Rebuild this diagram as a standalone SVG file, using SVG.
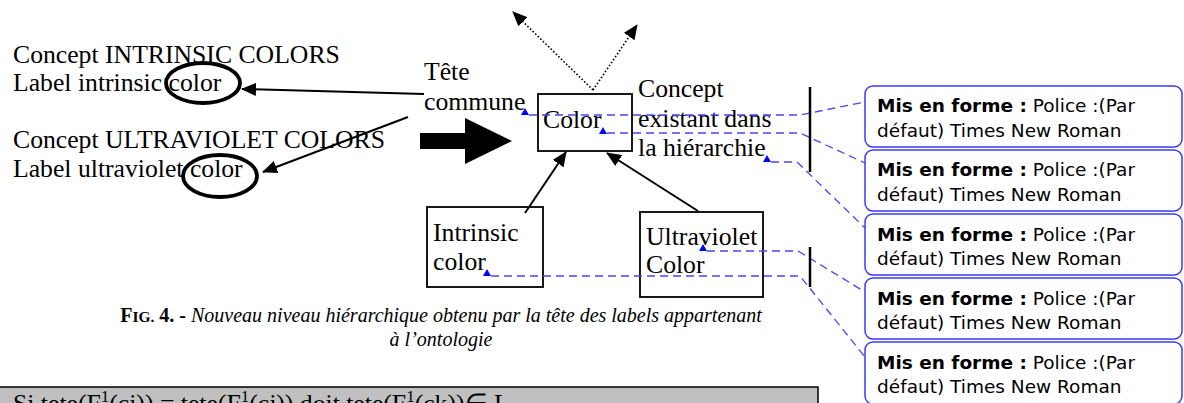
<svg xmlns="http://www.w3.org/2000/svg" width="1184" height="403" viewBox="0 0 1184 403">
<style>
.t{font-family:"Liberation Serif","Times New Roman",serif;font-size:25.7px;fill:#000}
.cap{font-family:"Liberation Serif","Times New Roman",serif;font-size:20px;fill:#000}
.bx{font-family:"DejaVu Sans",Verdana,sans-serif;font-size:18.5px;fill:#000}
.bb{font-weight:bold}
.box{fill:#fff;stroke:#000;stroke-width:1.8}
.call{fill:#fff;stroke:#3a3aff;stroke-width:1.5}
.dash{fill:none;stroke:#4646ff;stroke-width:1.3;stroke-dasharray:8 5}
.tri{fill:#0000ff}
.arr{fill:none;stroke:#000;stroke-width:2}
.dot{fill:none;stroke:#000;stroke-width:1.6;stroke-dasharray:1.6 2}
.ell{fill:none;stroke:#000;stroke-width:3.8}
.bar{stroke:#000;stroke-width:2.5}
</style>
<defs>
<marker id="ah" viewBox="0 0 15 13" refX="14" refY="6.5" markerWidth="15" markerHeight="13" markerUnits="userSpaceOnUse" orient="auto"><path d="M0,0 L15,6.5 L0,13 z" fill="#000"/></marker>
</defs>

<g id="left-labels">
<text class="t" x="13" y="63">Concept INTRINSIC COLORS</text>
<text class="t" x="13" y="91">Label intrinsic color</text>
<text class="t" x="13" y="148">Concept ULTRAVIOLET COLORS</text>
<text class="t" x="13" y="177">Label ultraviolet color</text>
<ellipse class="ell" cx="203" cy="83" rx="37" ry="20"/>
<ellipse class="ell" cx="220" cy="176" rx="37" ry="21"/>
</g>

<g id="tete-commune">
<text class="t" x="424" y="80">Tête</text>
<text class="t" x="424" y="110">commune</text>
</g>

<g id="color">
<rect class="box" x="538" y="94" width="94" height="57"/>
<text class="t" x="543" y="128">Color</text>
</g>

<g id="concept-existant">
<text class="t" x="638" y="97">Concept</text>
<text class="t" x="638" y="127">existant dans</text>
<text class="t" x="638" y="156">la hiérarchie</text>
</g>

<g id="intrinsic-color">
<rect class="box" x="427" y="207" width="116" height="80"/>
<text class="t" x="433" y="241">Intrinsic</text>
<text class="t" x="433" y="270">color</text>
</g>

<g id="ultraviolet-color">
<rect class="box" x="640" y="212" width="123" height="85"/>
<text class="t" x="646" y="245">Ultraviolet</text>
<text class="t" x="646" y="273">Color</text>
</g>

<g id="connectors">
<line class="arr" x1="424" y1="94" x2="242" y2="89" marker-end="url(#ah)"/>
<line class="arr" x1="408" y1="117" x2="263" y2="172" marker-end="url(#ah)"/>
<polygon points="420,133 465,133 465,118 512,141 465,164 465,149 420,149" fill="#000"/>
<line class="dot" x1="593" y1="90" x2="513" y2="12" marker-end="url(#ah)"/>
<line class="dot" x1="593" y1="90" x2="637" y2="25" marker-end="url(#ah)"/>
<line class="arr" x1="525" y1="213" x2="566" y2="152" marker-end="url(#ah)"/>
<line class="arr" x1="698" y1="211" x2="607" y2="153" marker-end="url(#ah)"/>
</g>

<g id="revision-marks">
<polyline class="dash" points="529,115 800,115 865,102"/>
<polyline class="dash" points="607,133 800,133 865,163"/>
<polyline class="dash" points="771,162 797,162 865,228"/>
<polyline class="dash" points="707,251 798,251 865,292"/>
<polyline class="dash" points="491,276 800,276 865,357"/>
<polygon class="tri" points="525,108 521,115 529,115"/>
<polygon class="tri" points="603,127 599,134 607,134"/>
<polygon class="tri" points="767,155 763,162 771,162"/>
<polygon class="tri" points="703,244 699,251 707,251"/>
<polygon class="tri" points="487,269 483,276 491,276"/>
<line class="bar" x1="810" y1="87" x2="810" y2="172"/>
<line class="bar" x1="810" y1="247" x2="810" y2="287"/>
</g>

<g id="callout-1">
<rect class="call" x="865" y="86" width="317" height="61" rx="8"/>
<text class="bx" x="877" y="112"><tspan class="bb">Mis en forme :</tspan> Police :(Par</text>
<text class="bx" x="877" y="137">défaut) Times New Roman</text>
</g>
<g id="callout-2">
<rect class="call" x="865" y="150" width="317" height="61" rx="8"/>
<text class="bx" x="877" y="176"><tspan class="bb">Mis en forme :</tspan> Police :(Par</text>
<text class="bx" x="877" y="201">défaut) Times New Roman</text>
</g>
<g id="callout-3">
<rect class="call" x="865" y="214" width="317" height="61" rx="8"/>
<text class="bx" x="877" y="241"><tspan class="bb">Mis en forme :</tspan> Police :(Par</text>
<text class="bx" x="877" y="265">défaut) Times New Roman</text>
</g>
<g id="callout-4">
<rect class="call" x="865" y="278" width="317" height="61" rx="8"/>
<text class="bx" x="877" y="305"><tspan class="bb">Mis en forme :</tspan> Police :(Par</text>
<text class="bx" x="877" y="329">défaut) Times New Roman</text>
</g>
<g id="callout-5">
<rect class="call" x="865" y="342" width="317" height="62" rx="8"/>
<text class="bx" x="877" y="369"><tspan class="bb">Mis en forme :</tspan> Police :(Par</text>
<text class="bx" x="877" y="393">défaut) Times New Roman</text>
</g>

<g id="caption">
<text class="cap" x="441" y="322" text-anchor="middle"><tspan font-weight="bold">F<tspan font-size="15.5px">IG.</tspan> 4. - </tspan><tspan font-style="italic">Nouveau niveau hiérarchique obtenu par la tête des labels appartenant</tspan></text>
<text class="cap" x="441" y="346" text-anchor="middle" font-style="italic">à l’ontologie</text>
</g>

<g id="formula">
<rect x="-2" y="387" width="820" height="30" fill="#c0c0c0" stroke="#000" stroke-width="1.5"/>
<text class="t" x="13" y="412">Si tete(F<tspan font-size="17px" dy="-10">1</tspan><tspan dy="10">(ci)) = tete(F</tspan><tspan font-size="17px" dy="-10">1</tspan><tspan dy="10">(cj)) doit tete(F</tspan><tspan font-size="17px" dy="-10">1</tspan><tspan dy="10">(ck))∈ L</tspan></text>
</g>
</svg>
